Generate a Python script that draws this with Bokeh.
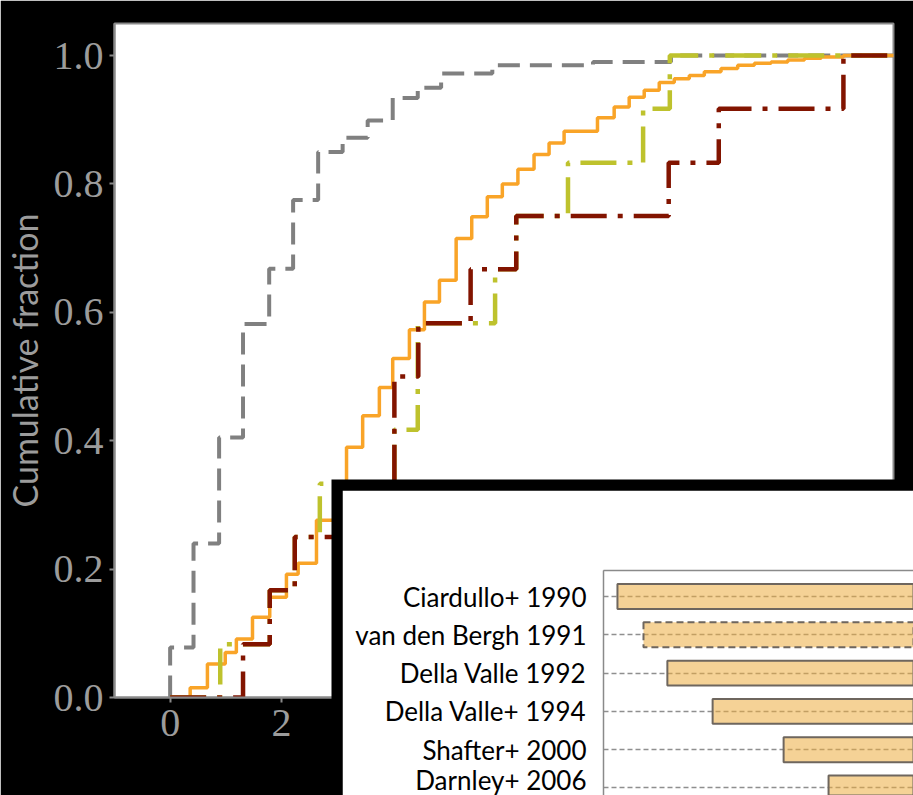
from bokeh.plotting import figure
from bokeh.models import Range1d, FixedTicker, NumeralTickFormatter
from bokeh.embed import file_html
from bokeh.resources import INLINE

# ---- main panel: cumulative fractions (step edges, levels) ----
gray_x = [0, 0, 0.42, 0.88, 1.31, 1.78, 2.21, 2.66, 3.1, 3.55, 4.0, 4.45, 4.87, 5.79, 7.6, 9.0, 13.5]
gray_y = [0, 0.078, 0.24, 0.405, 0.582, 0.668, 0.775, 0.85, 0.872, 0.899, 0.934, 0.95, 0.972, 0.985, 0.99, 1.0, 1.0]

orange_x = [0, 0.36, 0.67, 0.99, 1.19, 1.48, 1.79, 2.09, 2.3, 2.63, 2.96, 3.17, 3.46, 3.76, 4.0, 4.3,
            4.57, 4.84, 5.14, 5.42, 5.7, 5.97, 6.25, 6.54, 6.81, 7.08, 7.68, 7.98, 8.25, 8.52, 8.79,
            9.06, 9.33, 9.6, 9.9, 10.2, 10.5, 10.8, 11.1, 11.4, 11.7, 12.1, 13.5]
orange_y = [0, 0.015, 0.052, 0.070, 0.091, 0.125, 0.156, 0.192, 0.209, 0.276, 0.336, 0.39, 0.439, 0.483,
            0.528, 0.573, 0.616, 0.65, 0.715, 0.749, 0.78, 0.80, 0.823, 0.846, 0.864, 0.882, 0.903,
            0.92, 0.935, 0.946, 0.958, 0.964, 0.969, 0.975, 0.98, 0.985, 0.988, 0.99, 0.993, 0.996,
            0.998, 1.0, 1.0]

green_x = [0, 0.9, 1.79, 2.24, 2.69, 4.03, 4.45, 5.84, 6.22, 7.15, 8.5, 8.98, 13.5]
green_y = [0, 0.083, 0.167, 0.25, 0.333, 0.417, 0.583, 0.667, 0.75, 0.833, 0.917, 1.0, 1.0]

red_x = [0, 1.31, 1.79, 2.24, 2.95, 4.03, 4.46, 5.4, 6.22, 8.96, 9.86, 12.1, 13.5]
red_y = [0, 0.083, 0.167, 0.25, 0.333, 0.5, 0.583, 0.667, 0.75, 0.833, 0.917, 1.0, 1.0]

x_ticks = [0, 2, 4, 6, 8, 10, 12]
y_ticks = [0.0, 0.2, 0.4, 0.6, 0.8, 1.0]

# ---- inset panel: horizontal bars ----
inset_labels = ["Ciardullo+ 1990", "van den Bergh 1991", "Della Valle 1992",
                "Della Valle+ 1994", "Shafter+ 2000", "Darnley+ 2006"]
inset_start = [0.45, 1.29, 2.06, 3.52, 5.81, 7.26]
inset_end = [12, 12, 12, 12, 12, 12]
dashed_label = "van den Bergh 1991"

AX = "#8a8a8a"
TXT = "#9c9c9c"

p = figure(width=913, height=795, x_range=Range1d(-1, 13), y_range=Range1d(0, 1.05),
           output_backend="svg", toolbar_location=None,
           min_border_left=111, min_border_right=20, min_border_top=23, min_border_bottom=98)
p.border_fill_color = "black"
p.background_fill_color = "white"
p.outline_line_color = AX
p.outline_line_width = 2
p.grid.visible = False

p.xaxis.ticker = FixedTicker(ticks=x_ticks)
p.yaxis.ticker = FixedTicker(ticks=y_ticks)
p.yaxis.formatter = NumeralTickFormatter(format="0.0")
for ax in (p.xaxis[0], p.yaxis[0]):
    ax.axis_line_color = AX
    ax.axis_line_width = 2
    ax.major_tick_line_color = AX
    ax.major_tick_line_width = 2
    ax.major_tick_out = 5
    ax.major_tick_in = 0
    ax.minor_tick_line_color = None
    ax.major_label_text_font = "Liberation Serif"
    ax.major_label_text_font_size = "40px"
    ax.major_label_text_color = TXT
p.xaxis.major_label_standoff = 7
p.yaxis.major_label_standoff = 6
p.yaxis.axis_label = "Cumulative fraction"
p.yaxis.axis_label_text_font = "Lato"
p.yaxis.axis_label_text_font_style = "normal"
p.yaxis.axis_label_text_font_size = "34px"
p.yaxis.axis_label_text_color = TXT
p.yaxis.axis_label_standoff = 6

p.step(gray_x, gray_y, mode="after", line_color="#808080", line_width=4, line_dash="22 10")
p.step(orange_x, orange_y, mode="after", line_color="#f9a428", line_width=3.5)
p.step(green_x, green_y, mode="after", line_color="#bec22d", line_width=4.5, line_dash="36 11 5 11")
p.step(red_x, red_y, mode="after", line_color="#821400", line_width=4.5, line_dash="36 11 5 11")

# black frame of the inset
pb = figure(width=582, height=316, output_backend="svg", toolbar_location=None,
            min_border=0, background_fill_color="black", border_fill_color="black",
            outline_line_color=None)
pb.axis.visible = False
pb.grid.visible = False
pb.margin = (-316, 0, 0, 331)

# inset chart
rows = list(range(len(inset_labels)))
p2 = figure(width=571, height=305, x_range=Range1d(0, 10), y_range=Range1d(5.196, -0.679),
            output_backend="svg", toolbar_location=None, x_axis_location="above",
            min_border_left=261, min_border_top=80, min_border_right=0, min_border_bottom=0)
p2.margin = (-305, 0, 0, 342)
p2.background_fill_color = "white"
p2.border_fill_color = "white"
p2.outline_line_color = None
p2.xgrid.visible = False
p2.xaxis.ticker = FixedTicker(ticks=[])
p2.xaxis.major_tick_line_color = None
p2.xaxis.minor_tick_line_color = None
p2.xaxis.axis_line_color = AX
p2.xaxis.axis_line_width = 1.5
p2.yaxis.ticker = FixedTicker(ticks=rows)
p2.yaxis.major_label_overrides = {i: lab for i, lab in zip(rows, inset_labels)}
p2.yaxis.major_label_text_font = "Lato"
p2.yaxis.major_label_text_font_size = "26px"
p2.yaxis.major_label_text_color = "black"
p2.yaxis.major_label_standoff = 11
p2.yaxis.major_tick_line_color = None
p2.yaxis.minor_tick_line_color = None
p2.yaxis.axis_line_color = AX
p2.yaxis.axis_line_width = 1.5
p2.ygrid.grid_line_color = "#8f8f8f"
p2.ygrid.grid_line_width = 1.5
p2.ygrid.grid_line_dash = "5 3"

solid_idx = [i for i, lab in enumerate(inset_labels) if lab != dashed_label]
dash_idx = [i for i, lab in enumerate(inset_labels) if lab == dashed_label]
p2.hbar(y=[rows[i] for i in solid_idx], left=[inset_start[i] for i in solid_idx],
        right=[inset_end[i] for i in solid_idx], height=0.65,
        fill_color="#edad40", fill_alpha=0.55, line_color="#6e665e", line_width=2)
p2.hbar(y=[rows[i] for i in dash_idx], left=[inset_start[i] for i in dash_idx],
        right=[inset_end[i] for i in dash_idx], height=0.65,
        fill_color="#edad40", fill_alpha=0.55, line_color="#6e665e", line_width=2,
        line_dash="7 4")

open("out.html", "w").write(file_html([p, pb, p2], INLINE))
